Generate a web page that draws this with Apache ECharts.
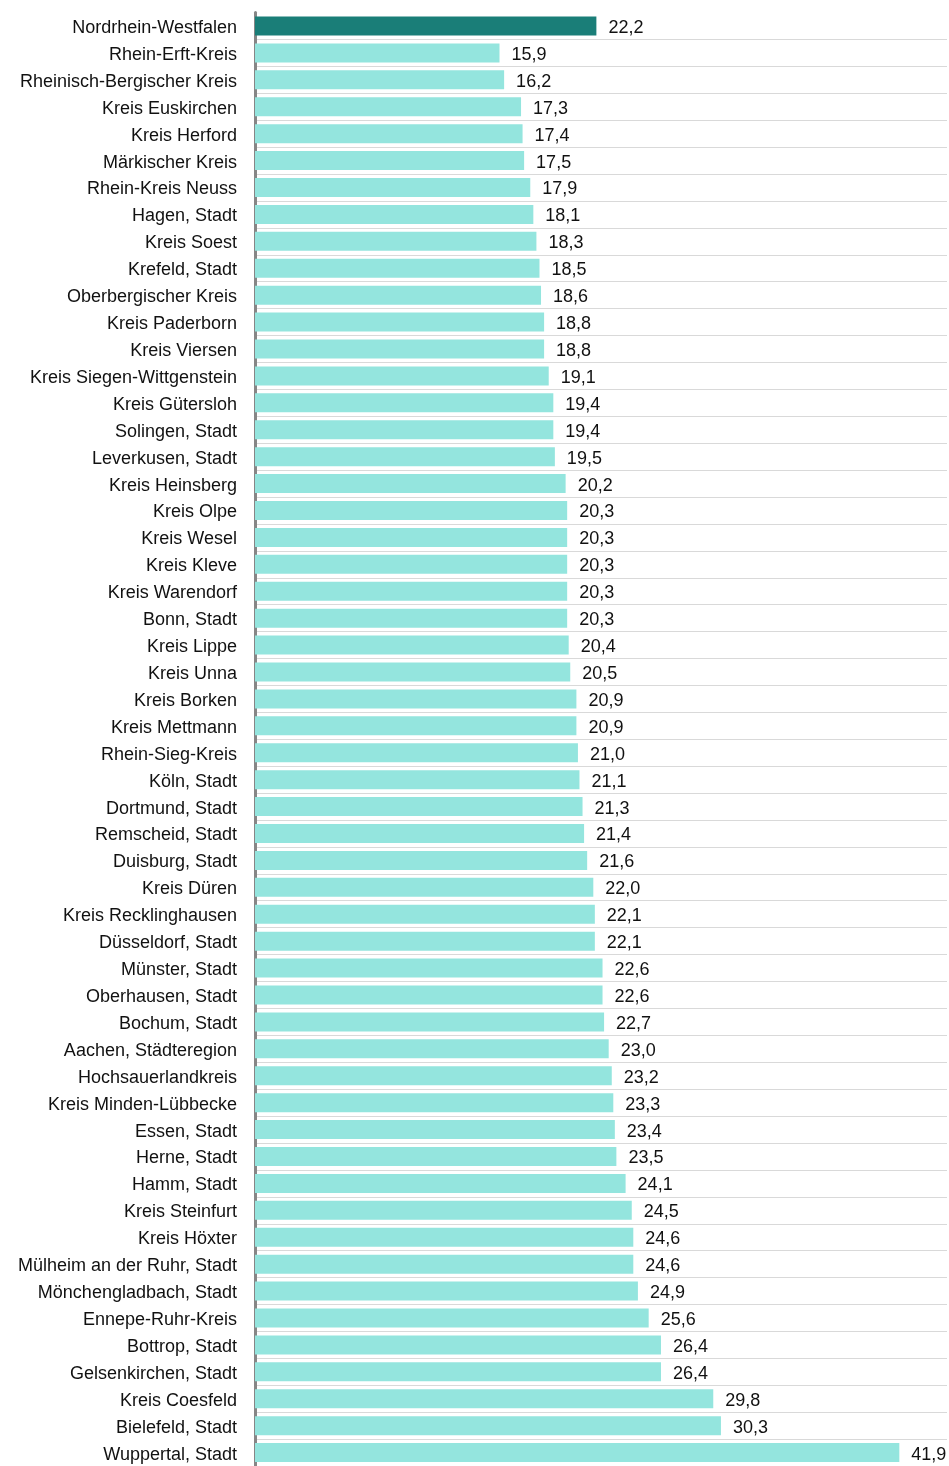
<!DOCTYPE html>
<html>
<head>
<meta charset="utf-8">
<script src="https://cdn.jsdelivr.net/npm/echarts@6/dist/echarts.min.js"></script>
<style>
  html, body { margin: 0; padding: 0; background: #ffffff; }
  #chart { width: 949px; height: 1466px; }
</style>
</head>
<body>
<div id="chart"></div>
<script>
// Regions of North Rhine-Westphalia, state total first
const regions = [
  'Nordrhein-Westfalen', 'Rhein-Erft-Kreis', 'Rheinisch-Bergischer Kreis', 'Kreis Euskirchen',
  'Kreis Herford', 'Märkischer Kreis', 'Rhein-Kreis Neuss', 'Hagen, Stadt', 'Kreis Soest',
  'Krefeld, Stadt', 'Oberbergischer Kreis', 'Kreis Paderborn', 'Kreis Viersen',
  'Kreis Siegen-Wittgenstein', 'Kreis Gütersloh', 'Solingen, Stadt', 'Leverkusen, Stadt',
  'Kreis Heinsberg', 'Kreis Olpe', 'Kreis Wesel', 'Kreis Kleve', 'Kreis Warendorf',
  'Bonn, Stadt', 'Kreis Lippe', 'Kreis Unna', 'Kreis Borken', 'Kreis Mettmann',
  'Rhein-Sieg-Kreis', 'Köln, Stadt', 'Dortmund, Stadt', 'Remscheid, Stadt', 'Duisburg, Stadt',
  'Kreis Düren', 'Kreis Recklinghausen', 'Düsseldorf, Stadt', 'Münster, Stadt',
  'Oberhausen, Stadt', 'Bochum, Stadt', 'Aachen, Städteregion', 'Hochsauerlandkreis',
  'Kreis Minden-Lübbecke', 'Essen, Stadt', 'Herne, Stadt', 'Hamm, Stadt', 'Kreis Steinfurt',
  'Kreis Höxter', 'Mülheim an der Ruhr, Stadt', 'Mönchengladbach, Stadt', 'Ennepe-Ruhr-Kreis',
  'Bottrop, Stadt', 'Gelsenkirchen, Stadt', 'Kreis Coesfeld', 'Bielefeld, Stadt', 'Wuppertal, Stadt'
];

const values = [
  22.2, 15.9, 16.2, 17.3,
  17.4, 17.5, 17.9, 18.1, 18.3,
  18.5, 18.6, 18.8, 18.8,
  19.1, 19.4, 19.4, 19.5,
  20.2, 20.3, 20.3, 20.3, 20.3,
  20.3, 20.4, 20.5, 20.9, 20.9,
  21.0, 21.1, 21.3, 21.4, 21.6,
  22.0, 22.1, 22.1, 22.6,
  22.6, 22.7, 23.0, 23.2,
  23.3, 23.4, 23.5, 24.1, 24.5,
  24.6, 24.6, 24.9, 25.6,
  26.4, 26.4, 29.8, 30.3, 41.9
];

const highlightRegion = 'Nordrhein-Westfalen';
const colorTotal = '#1a7e78';
const colorRegion = '#94e5de';
const fontFamily = 'Liberation Sans, Arial, sans-serif';
const rowHeight = 26.98;

const chart = echarts.init(document.getElementById('chart'), null, { renderer: 'canvas' });

chart.setOption({
  animation: false,
  backgroundColor: '#ffffff',
  grid: { left: 255, right: 2, top: 12.5, height: regions.length * rowHeight, containLabel: false },
  xAxis: {
    type: 'value',
    min: 0,
    max: 45,
    axisLine: { show: false },
    axisTick: { show: false },
    axisLabel: { show: false },
    splitLine: { show: false }
  },
  yAxis: {
    type: 'category',
    inverse: true,
    data: regions,
    axisLine: { show: true, lineStyle: { color: '#868686', width: 3 } },
    axisTick: { show: false },
    axisLabel: {
      margin: 18,
      formatter: name => '{n|' + name + '}',
      rich: {
        n: {
          fontSize: 18,
          fontFamily: fontFamily,
          color: '#111111',
          padding: [4, 0, 0, 0]
        }
      }
    },
    splitLine: {
      show: true,
      showMinLine: false,
      lineStyle: { color: '#d9d9d9', width: 1 }
    }
  },
  series: [{
    type: 'bar',
    barWidth: 19,
    data: values.map((v, i) => ({
      value: v,
      itemStyle: { color: regions[i] === highlightRegion ? colorTotal : colorRegion }
    })),
    label: {
      show: true,
      position: 'right',
      distance: 12,
      offset: [0, 2],
      fontSize: 18,
      fontFamily: fontFamily,
      color: '#111111',
      formatter: p => p.value.toFixed(1).replace('.', ',')
    }
  }]
});
</script>
</body>
</html>
